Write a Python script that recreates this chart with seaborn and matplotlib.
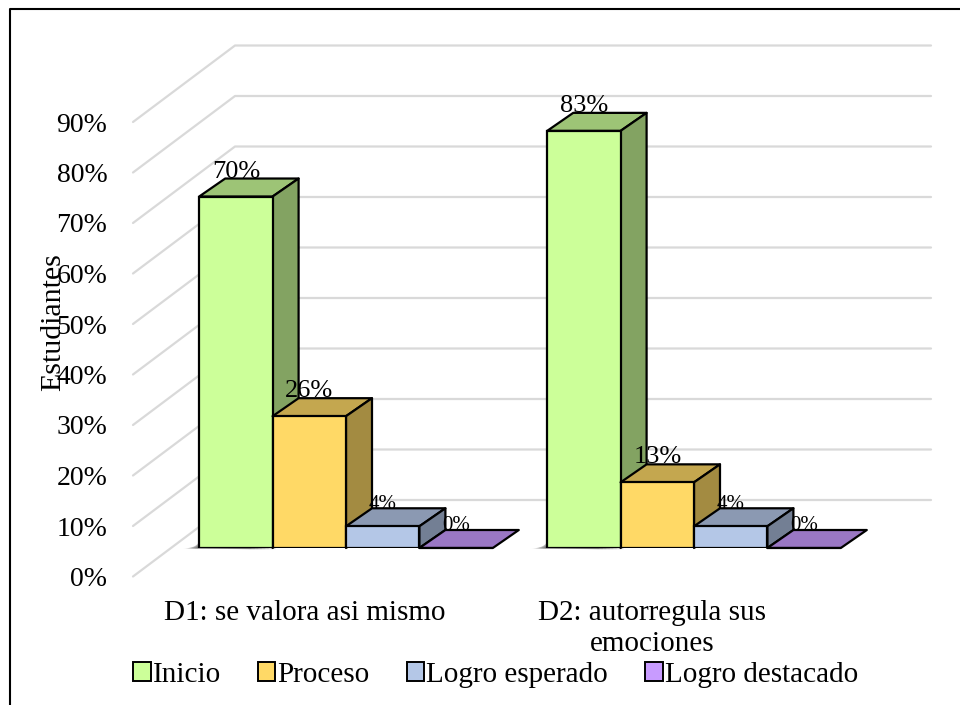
import pandas as pd
import seaborn as sns
import matplotlib.pyplot as plt
from matplotlib.lines import Line2D
from matplotlib.patches import Polygon

categories = ["D1: se valora asi mismo", "D2: autorregula sus\nemociones"]
levels = ["Inicio", "Proceso", "Logro esperado", "Logro destacado"]
inicio = [69.6, 82.6]
proceso = [26.1, 13.0]
esperado = [4.3, 4.3]
destacado = [0.0, 0.0]
y_ticks = [0, 10, 20, 30, 40, 50, 60, 70, 80, 90]
colors = ["#CCFF99", "#FFD966", "#B4C7E7", "#C89BFF"]

W, H = 960, 705
PX_PER_PCT = 5.05
PX_PER_CAT = 348

sns.set_theme(style = "white")
plt.rcParams["font.family"] = ["Liberation Serif", "DejaVu Serif"]

df = pd.DataFrame({"categoria": categories * 4,
                   "nivel": [n for n in levels for _ in categories],
                   "valor": inicio + proceso + esperado + destacado})


def box(x0, x1, y_base):
    # Pixel Box To Figure Fractions, Height Covers 0-90%
    return [x0 / W, 1 - y_base / H, (x1 - x0) / W, 90 * PX_PER_PCT / H]


def shade(color, k):
    r, g, b = plt.matplotlib.colors.to_rgb(color)
    return (r * k, g * k, b * k)


fig = plt.figure(figsize = (W / 100, H / 100), dpi = 100)

# Wall Axes: Grid, Tick Labels And Category Labels
wall = fig.add_axes(box(133, 829, 576.5))
wall.set_xlim(-.5, 1.5)
wall.set_ylim(0, 90)
wall_dx = 102 / PX_PER_CAT
wall_dy = 76.5 / PX_PER_PCT
for v in y_ticks:
    wall.plot([-.5, -.5 + wall_dx, 1.5 + wall_dx], [v, v + wall_dy, v + wall_dy],
              color = "#D9D9D9", lw = 1.6, clip_on = False, zorder = 1)
wall.set_yticks(y_ticks)
wall.set_yticklabels([f"{v}%" for v in y_ticks], fontsize = 20, color = "black")
wall.tick_params(axis = "y", length = 0, pad = 18.5)
wall.set_xticks([-.0075, .9925])
wall.set_xticklabels(categories, fontsize = 21, color = "black", linespacing = 1.22)
wall.tick_params(axis = "x", length = 0, pad = 17)
wall.set_ylabel("Estudiantes", fontsize = 21.5, color = "black")
wall.yaxis.set_label_coords((66 - 133) / 696, .56)
sns.despine(ax = wall, left = True, bottom = True)
wall.patch.set_visible(False)

# Bar Axes: Sits Deeper Inside The Floor Than The Wall Axes
ax = fig.add_axes(box(172, 868, 548))
sns.barplot(data = df, x = "categoria", y = "valor", hue = "nivel",
            hue_order = levels, palette = colors, saturation = 1, width = .8437,
            gap = 0, edgecolor = "black", linewidth = 1.6, ax = ax)
ax.set_xlim(-.5, 1.5)
ax.set_ylim(0, 90)
ax.axis("off")

# Soft Floor Shadow Left Of Each First Bar
for bar in ax.containers[0]:
    x0 = bar.get_x()
    for i in range(8):
        ax.add_patch(Polygon([(x0 - (i + 1) * 2 / PX_PER_CAT, -.1), (x0 + .22 - i * .01, -.25),
                              (x0 + .22 - i * .01, .2), (x0, (8 - i) * .2)],
                             closed = True, fc = "black", ec = "none", alpha = .09,
                             zorder = 2, clip_on = False))

# Extrude Each Bar With A Top And A Side Face
dx = 26 / PX_PER_CAT
dy = 18 / PX_PER_PCT
for i, (cont, color) in enumerate(zip(ax.containers, colors)):
    for bar in cont:
        x0 = bar.get_x()
        x1 = x0 + bar.get_width()
        v = bar.get_height()
        z = 3 + i
        bar.set_zorder(z + .1)
        ax.add_patch(Polygon([(x0, v), (x0 + dx, v + dy), (x1 + dx, v + dy), (x1, v)],
                             closed = True, fc = shade(color, .77), ec = "black",
                             lw = 1.6, zorder = z, clip_on = False, joinstyle = "round"))
        if v > 0:
            ax.add_patch(Polygon([(x1, 0), (x1 + dx, dy), (x1 + dx, v + dy), (x1, v)],
                                 closed = True, fc = shade(color, .64), ec = "black",
                                 lw = 1.6, zorder = z, clip_on = False, joinstyle = "round"))
        big = v > 5
        ax.text((x0 + x1) / 2, v + dy + (7 if big else 4) / PX_PER_PCT, f"{v:.0f}%",
                ha = "center", va = "center", fontsize = 19 if big else 15,
                color = "black", zorder = 20)

sns.move_legend(ax, "center left", bbox_to_anchor = (133 / W, 1 - 675 / H),
                bbox_transform = fig.transFigure, ncol = 4, title = None, frameon = False,
                fontsize = 21, handlelength = .6, handleheight = .6, handletextpad = .07,
                columnspacing = 1.27, borderpad = 0, borderaxespad = 0, labelcolor = "black")
for h in ax.get_legend().legend_handles:
    h.set_edgecolor("black")
    h.set_linewidth(1.4)

# Outer Frame, Only Top And Left Fall Inside The Crop
fig.add_artist(Line2D([10 / W, 10 / W, 1], [0, 1 - 9 / H, 1 - 9 / H], color = "black", lw = 1.5))

fig.savefig("out.png", dpi = 100)
